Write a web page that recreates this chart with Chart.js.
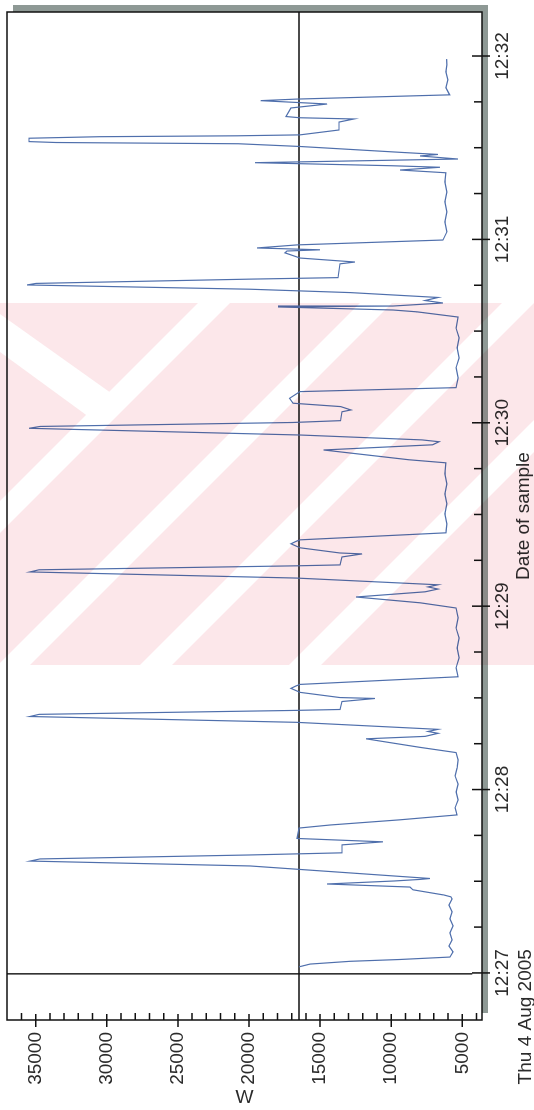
<!DOCTYPE html>
<html>
<head>
<meta charset="utf-8">
<script src="https://cdn.jsdelivr.net/npm/chart.js@4.4.1/dist/chart.umd.min.js"></script>
<style>
  html, body { margin: 0; padding: 0; background: #fff; }
  body { width: 534px; height: 1110px; position: relative; overflow: hidden; }
  /* the trace is laid out landscape and turned a quarter turn onto the page */
  #wrap { position: absolute; left: 0; top: 0; width: 1110px; height: 534px;
          transform-origin: 0 0; transform: translateY(1110px) rotate(-90deg); }
  #stamp { position: absolute; left: 0; top: 0; mix-blend-mode: multiply; pointer-events: none; }
</style>
</head>
<body>
<div id="wrap"><canvas id="trace" width="1110" height="534"></canvas></div>
<canvas id="stamp" width="534" height="1110"></canvas>
<script>
// seconds after 12:27:00 and the power reading at that moment
const seconds = [
  2.0, 2.9, 3.8, 4.4, 5.2, 6.9, 8.8, 10.8, 13.1, 15.4, 17.7, 20.0, 22.2, 24.2, 24.9,
  25.5, 27.2, 28.1, 29.1, 30.1, 30.6, 30.9, 35.0, 36.6, 37.3, 38.6, 39.3, 41.9, 42.9,
  44.0, 47.4, 48.4, 50.1, 51.7,
  54.0, 56.6, 59.2, 61.8, 64.5, 67.1, 69.7, 72.1,
  73.8, 76.6, 77.4, 78.4, 79.0, 79.7, 82.0, 83.9, 84.6, 85.9, 86.2, 88.8, 89.8, 90.1,
  91.8, 93.1, 93.9, 94.4, 96.9,
  99.8, 103.1, 106.3, 109.6, 112.9, 116.2, 119.4,
  121.1, 123.0, 124.7, 125.6, 126.3, 127.0, 129.2, 131.2, 131.9, 133.2, 133.5, 136.1,
  137.1, 137.4, 139.1, 140.4, 141.2, 141.7, 144.0,
  146.9, 150.2, 153.5, 156.7, 160.0, 163.3, 166.9,
  167.9, 171.1, 172.8, 173.8, 174.4, 176.0, 178.2, 178.8, 180.1, 180.7, 183.6, 184.2,
  185.3, 186.4, 188.0, 190.2, 191.5,
  194.7, 198.0, 201.2, 204.5, 207.8, 211.0, 214.6,
  216.3, 216.9, 217.9, 218.2, 219.2, 220.0, 221.0, 222.6, 223.7, 225.1, 225.6, 227.0,
  227.5, 232.0, 232.6, 233.9, 235.6, 236.2, 236.6, 237.2, 238.2, 239.8,
  242.5, 245.7, 249.0, 252.3, 255.5, 258.8, 261.8,
  262.7, 263.6, 264.1, 265.1, 266.3, 267.3, 267.8, 268.4, 270.4, 271.3, 271.7, 272.0,
  273.1, 273.6, 273.9, 274.2, 275.8, 278.4, 279.4, 279.8, 280.2, 283.0, 284.3, 285.4,
  285.9, 287.3,
  289.6, 292.2, 294.8, 297.1, 299.0
];
const watts = [
  16480, 15710, 12900, 9380, 5870, 5650, 5940, 5720, 5870, 5650, 5870, 5720, 5940, 5720, 5800,
  6290, 8470, 8680, 14510, 9730, 7970, 7270, 19930, 35400, 34700, 19930, 13460, 13460, 10580,
  16620, 16480, 14300, 9380, 5370,
  5510, 5300, 5440, 5300, 5510, 5370, 5300, 5440,
  7970, 11770, 7620, 6710, 7410, 6710, 16690, 35400, 34770, 16690, 13600, 13460, 11140, 13600,
  16410, 17050, 16690, 16410, 5300,
  5440, 5230, 5370, 5230, 5440, 5300, 5440,
  7970, 12480, 7620, 6710, 7410, 6710, 16690, 35400, 34770, 16690, 13600, 13460,
  12050, 13600, 16410, 17050, 16690, 16410, 6150,
  6080, 6220, 6080, 6220, 6080, 6220, 6150,
  8750, 14750, 7090, 6640, 7830, 16410, 35470, 34700, 16900, 13560, 13460, 12830,
  13560, 16900, 17150, 16410, 5440,
  5300, 5440, 5230, 5370, 5230, 5440, 5300,
  8190, 9870, 17960, 9870, 6360, 7620, 6710, 12900, 19930, 35610, 34980, 19930,
  13740, 13600, 12550, 16410, 17470, 17330, 15010, 19440, 16620, 6360,
  6080, 6220, 6080, 6220, 6080, 6220, 6150,
  9380, 6570, 9940, 19580, 5300, 7970, 6710, 9030, 16410, 20770, 33570, 35470,
  35470, 30550, 20770, 16410, 13670, 13670, 12620, 16410, 17400, 17050, 14510, 19180,
  16690, 5890,
  6150, 6010, 6150, 6080, 6100
];

const wattTicks = [5000, 10000, 15000, 20000, 25000, 30000, 35000];
const minuteTicks = [0, 60, 120, 180, 240, 300];
const minuteLabels = ['12:27', '12:28', '12:29', '12:30', '12:31', '12:32'];
const sampleDate = 'Thu 4 Aug 2005';
const timeTitle = 'Date of sample';
const powerTitle = 'W';

// cursor left on the plot: a level line and a time line
const cursorWatts = 16480;
const cursorSeconds = -0.3;
const cursorFloorWatts = 4300;

const FAMILY = '"Liberation Sans", Arial, sans-serif';
const FONT = '19px ' + FAMILY;
const INK = '#2b2b2b';

const frame = {
  id: 'frame',
  beforeDraw(chart) {
    const { ctx, chartArea: a } = chart;
    ctx.save();
    ctx.fillStyle = '#fff';
    ctx.fillRect(0, 0, chart.width, chart.height);
    // drop shadow of the plot box
    ctx.fillStyle = '#8e9995';
    ctx.fillRect(a.left + 7, a.top + 6, a.right - a.left, a.bottom - a.top);
    ctx.fillStyle = '#fff';
    ctx.fillRect(a.left, a.top, a.right - a.left, a.bottom - a.top);
    ctx.restore();
  },
  beforeDatasetsDraw(chart) {
    const { ctx, chartArea: a, scales: { x, y } } = chart;
    ctx.save();
    ctx.strokeStyle = '#111';
    ctx.lineWidth = 1.4;
    const yc = y.getPixelForValue(cursorWatts);
    ctx.beginPath();
    ctx.moveTo(a.left, yc);
    ctx.lineTo(a.right, yc);
    const xc = x.getPixelForValue(cursorSeconds);
    ctx.moveTo(xc, a.top);
    ctx.lineTo(xc, y.getPixelForValue(cursorFloorWatts));
    ctx.stroke();
    ctx.restore();
  },
  afterDraw(chart) {
    const { ctx, chartArea: a, scales: { x, y } } = chart;
    ctx.save();
    ctx.strokeStyle = '#111';
    ctx.lineWidth = 1.5;
    ctx.strokeRect(a.left, a.top, a.right - a.left, a.bottom - a.top);

    // tick marks: minutes cross the axis, quarter minutes sit inside
    ctx.beginPath();
    for (let s = 0; s <= 300; s += 15) {
      const px = x.getPixelForValue(s);
      const major = s % 60 === 0;
      ctx.moveTo(px, a.bottom - (major ? 10 : 8));
      ctx.lineTo(px, a.bottom + (major ? 8 : 0));
    }
    for (let w = 4000; w <= 36000; w += 1000) {
      const py = y.getPixelForValue(w);
      const major = w % 5000 === 0;
      ctx.moveTo(a.left + (major ? 6 : 7), py);
      ctx.lineTo(a.left - (major ? 7 : 0), py);
    }
    ctx.stroke();

    ctx.fillStyle = INK;
    ctx.font = FONT;
    ctx.textBaseline = 'alphabetic';
    ctx.textAlign = 'center';
    ctx.fillText(timeTitle, (a.left + a.right) / 2, 529);

    const first = x.getPixelForValue(minuteTicks[0]);
    ctx.textAlign = 'right';
    ctx.fillText(sampleDate, first + ctx.measureText(minuteLabels[0]).width / 2, 531);

    ctx.translate(12, (a.top + a.bottom) / 2);
    ctx.rotate(Math.PI / 2);
    ctx.textAlign = 'center';
    ctx.textBaseline = 'middle';
    ctx.fillText(powerTitle, 0, 0);
    ctx.restore();
  }
};

new Chart(document.getElementById('trace'), {
  type: 'line',
  data: {
    datasets: [{
      data: seconds.map((s, i) => ({ x: s, y: watts[i] })),
      borderColor: '#4f6fac',
      borderWidth: 1.2,
      pointRadius: 0,
      tension: 0,
      fill: false
    }]
  },
  options: {
    responsive: false,
    animation: false,
    devicePixelRatio: 1,
    layout: { padding: { top: 7, right: 12, left: 0, bottom: 0 } },
    plugins: { legend: { display: false }, tooltip: { enabled: false } },
    scales: {
      x: {
        type: 'linear',
        min: -15.4,
        max: 314.4,
        grid: { display: false, drawTicks: false },
        border: { display: false },
        afterBuildTicks: s => { s.ticks = minuteTicks.map(v => ({ value: v })); },
        afterFit: s => { s.height = 52; s.paddingLeft = 0; s.paddingRight = 0; },
        ticks: {
          autoSkip: false,
          maxRotation: 0,
          padding: 9,
          color: INK,
          font: { family: FAMILY, size: 19 },
          callback: v => minuteLabels[minuteTicks.indexOf(v)]
        }
      },
      y: {
        min: 3615,
        max: 37017,
        grid: { display: false, drawTicks: false },
        border: { display: false },
        afterBuildTicks: s => { s.ticks = wattTicks.map(v => ({ value: v })); },
        afterFit: s => { s.width = 90; s.paddingTop = 0; s.paddingBottom = 0; },
        ticks: {
          padding: 12,
          color: INK,
          font: { family: FAMILY, size: 19 },
          callback: v => String(v)
        }
      }
    }
  },
  plugins: [frame]
});

// faint pink stamp showing through the scan
const st = document.getElementById('stamp').getContext('2d');
st.save();
st.beginPath();
st.rect(0, 303, 534, 362);
st.clip();
st.fillStyle = '#fce7ea';
st.fillRect(0, 303, 534, 362);
st.fillStyle = '#fff';
[-164, -2, 140, 289].forEach(x0 => {
  st.beginPath();
  st.moveTo(x0, 665);
  st.lineTo(x0 + 362, 303);
  st.lineTo(x0 + 394, 303);
  st.lineTo(x0 + 32, 665);
  st.closePath();
  st.fill();
});
st.beginPath();
st.moveTo(0, 314);
st.lineTo(118, 398);
st.lineTo(104, 428);
st.lineTo(0, 352);
st.closePath();
st.fill();
st.restore();
</script>
</body>
</html>
